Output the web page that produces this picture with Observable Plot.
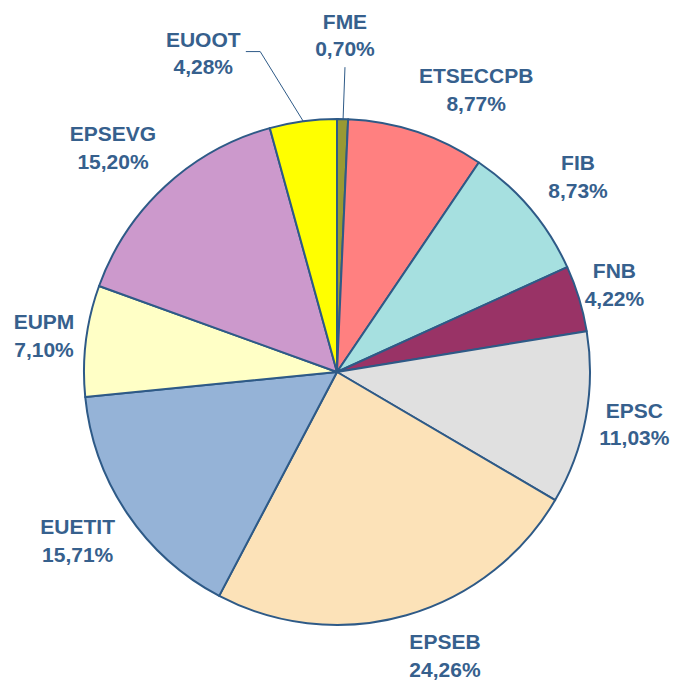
<!DOCTYPE html>
<html>
<head>
<meta charset="utf-8">
<script src="https://cdn.jsdelivr.net/npm/d3@7"></script>
<script src="https://cdn.jsdelivr.net/npm/@observablehq/plot@0.6"></script>
<style>
  html, body { margin: 0; padding: 0; background: #fff; }
  #chart { width: 674px; height: 680px; }
</style>
</head>
<body>
<div id="chart"></div>
<script>
// ---- data ----
const categories = ["FME", "ETSECCPB", "FIB", "FNB", "EPSC", "EPSEB", "EUETIT", "EUPM", "EPSEVG", "EUOOT"];
const shares = [0.70, 8.77, 8.73, 4.22, 11.03, 24.26, 15.71, 7.10, 15.20, 4.28];
const colors = ["#999933", "#FF8080", "#A6E0E0", "#993366", "#E0E0E0", "#FCE2B8", "#95B3D7", "#FFFFC6", "#CC99CC", "#FFFF00"];

// label layout: radial distance (in radii) and angular nudge (deg) from slice mid-angle
const labelRadius = [1.34, 1.25, 1.23, 1.15, 1.19, 1.19, 1.22, 1.17, 1.26, 1.375];
const labelNudge  = [0, 7.7, 0.8, -1, -1, -5, 1.3, 0.4, -2, -15];

const W = 674, H = 680, CX = 337, CY = 372, R = 253;
const stroke = "#2E5A87";
const textColor = "#36608D";

const fmt = v => v.toFixed(2).replace(".", ",") + "%";

const arcs = d3.pie().sort(null).value(d => d)(shares);
const rows = categories.map((c, i) => {
  const a = arcs[i];
  const mid = (a.startAngle + a.endAngle) / 2;
  const la = mid + labelNudge[i] * Math.PI / 180;
  return {
    name: c, value: shares[i], color: colors[i],
    start: a.startAngle, end: a.endAngle, mid,
    lx: labelRadius[i] * Math.sin(la),
    ly: labelRadius[i] * Math.cos(la),
    label: c + "\n" + fmt(shares[i])
  };
});

// leader lines for the small slices (FME, EUOOT)
const leaders = [];
{
  const f = rows[0];
  leaders.push({id: "FME", x: f.lx, y: f.ly - 34 / R});
  leaders.push({id: "FME", x: Math.sin(f.mid), y: Math.cos(f.mid)});
  const e = rows[9];
  leaders.push({id: "EUOOT", x: e.lx + 43 / R, y: e.ly});
  leaders.push({id: "EUOOT", x: e.lx + 57 / R, y: e.ly});
  leaders.push({id: "EUOOT", x: Math.sin(e.mid), y: Math.cos(e.mid)});
}

const xd = [-CX / R, (W - CX) / R];
const yd = [-(H - CY) / R, CY / R];

function slices(index, scales, values, dimensions) {
  const cx = scales.x(0), cy = scales.y(0);
  const r = scales.x(1) - scales.x(0);
  const g = d3.create("svg:g").attr("transform", `translate(${cx},${cy})`);
  const arc = d3.arc().innerRadius(0).outerRadius(r);
  g.selectAll("path").data(rows).join("path")
    .attr("d", d => arc({startAngle: d.start, endAngle: d.end}))
    .attr("fill", d => d.color)
    .attr("stroke", stroke)
    .attr("stroke-width", 2)
    .attr("stroke-linejoin", "round");
  return g.node();
}

const chart = Plot.plot({
  width: W, height: H,
  margin: 0,
  x: {domain: xd, axis: null},
  y: {domain: yd, axis: null},
  style: {background: "#fff"},
  marks: [
    slices,
    Plot.line(leaders, {x: "x", y: "y", z: "id", stroke: stroke, strokeWidth: 1}),
    Plot.text(rows, {
      x: "lx", y: "ly", text: "label",
      fill: textColor, fontSize: 21, fontWeight: "bold",
      fontFamily: "Liberation Sans, Arial, sans-serif",
      lineHeight: 1.33, textAnchor: "middle", lineAnchor: "middle"
    })
  ]
});
document.getElementById("chart").appendChild(chart);
</script>
</body>
</html>
